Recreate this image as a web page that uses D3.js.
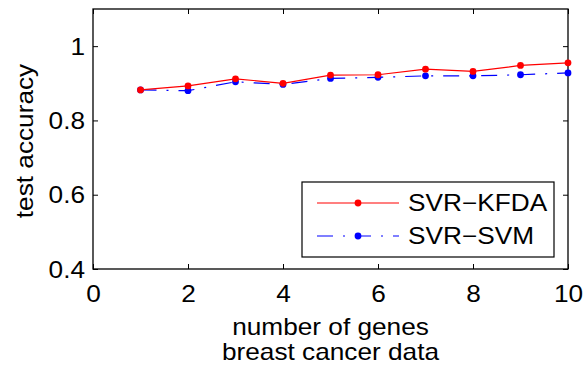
<!DOCTYPE html>
<html>
<head>
<meta charset="utf-8">
<script src="https://cdn.jsdelivr.net/npm/d3@7"></script>
<style>
  body { margin: 0; background: #fff; }
  text { font-family: "Liberation Sans", Arial, sans-serif; fill: #000; }
</style>
</head>
<body>
<svg id="chart" width="586" height="369"></svg>
<script>
// values
const genes = [1, 2, 3, 4, 5, 6, 7, 8, 9, 10];
const kfda = [0.882, 0.893, 0.912, 0.900, 0.922, 0.923, 0.938, 0.932, 0.948, 0.955];
const svm = [0.882, 0.880, 0.904, 0.897, 0.913, 0.916, 0.920, 0.920, 0.923, 0.928];
const xTicks = [0, 2, 4, 6, 8, 10];
const yTicks = [0.4, 0.6, 0.8, 1];
const seriesNames = ["SVR\u2212KFDA", "SVR\u2212SVM"];

const mLeft = 93, mRight = 568, mTop = 9, mBottom = 269;
const fs = "23px";
const stretch = 1.14; // the original font runs wider than Liberation Sans
const dashDot = "16,10,2,10";
const svg = d3.select("#chart");

const x = d3.scaleLinear().domain([0, 10]).range([mLeft, mRight]);
const y = d3.scaleLinear().domain([0.4, 1.1]).range([mBottom, mTop]);

// place a text with its wider look
function label(parent, str, px, py, anchor, rot) {
  return parent.append("text").text(str)
    .attr("transform", `translate(${px},${py})${rot ? " rotate(" + rot + ")" : ""} scale(${stretch},1)`)
    .attr("text-anchor", anchor || "start")
    .style("font-size", fs);
}

// ------------- axes (ticks inside, mirrored on top/right) -------------
const tickLen = 5;
const fmt = d => d3.format("")(d);

const gx = svg.append("g").attr("transform", `translate(0,${mBottom})`)
  .call(d3.axisBottom(x).tickValues(xTicks).tickSizeInner(-tickLen).tickSizeOuter(0).tickPadding(0).tickFormat(fmt));
const gxTop = svg.append("g").attr("transform", `translate(0,${mTop})`)
  .call(d3.axisTop(x).tickValues(xTicks).tickSizeInner(-tickLen).tickSizeOuter(0).tickFormat(""));
const gy = svg.append("g").attr("transform", `translate(${mLeft},0)`)
  .call(d3.axisLeft(y).tickValues(yTicks).tickSizeInner(-tickLen).tickSizeOuter(0).tickPadding(0).tickFormat(fmt));
const gyRight = svg.append("g").attr("transform", `translate(${mRight},0)`)
  .call(d3.axisRight(y).tickValues(yTicks).tickSizeInner(-tickLen).tickSizeOuter(0).tickFormat(""));

[gx, gxTop, gy, gyRight].forEach(g => {
  g.select(".domain").remove();
  g.selectAll("line").attr("stroke", "#000").attr("stroke-width", 1);
  g.selectAll("text").style("font-size", fs).attr("fill", "#000");
});
gx.selectAll("text").attr("y", 0).attr("dy", null)
  .attr("transform", `translate(0,33) scale(${stretch},1)`);
gy.selectAll("text").attr("x", 0).attr("dy", null)
  .attr("transform", `translate(-8,8) scale(${stretch},1)`);

// frame
svg.append("rect")
  .attr("x", mLeft).attr("y", mTop)
  .attr("width", mRight - mLeft).attr("height", mBottom - mTop)
  .attr("fill", "none").attr("stroke", "#000").attr("stroke-width", 1.3);

// ------------- labels -------------
label(svg, "number of genes", (mLeft + mRight) / 2, 335, "middle");
label(svg, "breast cancer data", (mLeft + mRight) / 2, 360, "middle");
label(svg, "test accuracy", 33, (mTop + mBottom) / 2 + 2, "middle", -90);

// ------------- series -------------
const line = d3.line().x(d => x(d[0])).y(d => y(d[1]));
const series = [
  { vals: svm, color: "#0000ff", dash: dashDot },
  { vals: kfda, color: "#ff0000", dash: null }
];

series.forEach(s => {
  const pts = genes.map((g, i) => [g, s.vals[i]]);
  svg.append("path").datum(pts)
    .attr("d", line)
    .attr("fill", "none")
    .attr("stroke", s.color)
    .attr("stroke-width", 1.2)
    .attr("stroke-dasharray", s.dash);
  svg.selectAll(null).data(pts).enter().append("circle")
    .attr("cx", d => x(d[0])).attr("cy", d => y(d[1]))
    .attr("r", 3.4).attr("fill", s.color);
});

// ------------- legend -------------
const lg = svg.append("g");
lg.append("rect")
  .attr("x", 302).attr("y", 182).attr("width", 252).attr("height", 75)
  .attr("fill", "#fff").attr("stroke", "#000").attr("stroke-width", 1.2);
const legendItems = [
  { name: seriesNames[0], color: "#ff0000", dash: null, yy: 203 },
  { name: seriesNames[1], color: "#0000ff", dash: dashDot, yy: 236 }
];
legendItems.forEach(d => {
  lg.append("line")
    .attr("x1", 317).attr("x2", 399).attr("y1", d.yy).attr("y2", d.yy)
    .attr("stroke", d.color).attr("stroke-width", 1.2)
    .attr("stroke-dasharray", d.dash);
  lg.append("circle").attr("cx", 358).attr("cy", d.yy).attr("r", 3.4).attr("fill", d.color);
  label(lg, d.name, 408, d.yy + 8, "start");
});
</script>
</body>
</html>
